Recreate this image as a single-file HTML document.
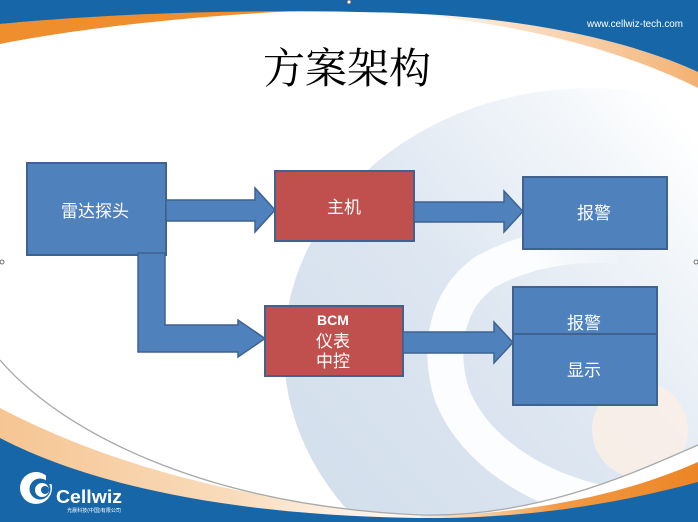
<!DOCTYPE html>
<html>
<head>
<meta charset="utf-8">
<style>
  html,body{margin:0;padding:0;background:#fff;width:698px;height:522px;overflow:hidden;}
  svg{display:block;position:absolute;left:0;top:0;overflow:hidden;}
  .lbl{font-family:"Liberation Sans","Noto Sans CJK SC",sans-serif;fill:#fff;font-size:17px;text-anchor:middle;}
</style>
</head>
<body>
<svg width="698" height="522" viewBox="0 0 698 522" xmlns="http://www.w3.org/2000/svg">
  <defs>
    <clipPath id="frame"><rect x="0" y="0" width="698" height="522"/></clipPath>
    <linearGradient id="lb" gradientUnits="userSpaceOnUse" x1="300" y1="460" x2="690" y2="130">
      <stop offset="0" stop-color="#d3dfec"/>
      <stop offset="0.45" stop-color="#dde6f1"/>
      <stop offset="0.8" stop-color="#f1f5f9"/>
      <stop offset="1" stop-color="#ffffff"/>
    </linearGradient>
    <linearGradient id="ringG" gradientUnits="userSpaceOnUse" x1="620" y1="240" x2="470" y2="320">
      <stop offset="0" stop-color="#ffffff" stop-opacity="0"/>
      <stop offset="0.5" stop-color="#ffffff" stop-opacity="0.9"/>
      <stop offset="1" stop-color="#ffffff" stop-opacity="0.92"/>
    </linearGradient>
    <linearGradient id="peachR" gradientUnits="userSpaceOnUse" x1="400" y1="0" x2="698" y2="0">
      <stop offset="0" stop-color="#f6c08a" stop-opacity="0"/>
      <stop offset="0.5" stop-color="#f5c596" stop-opacity="0.7"/>
      <stop offset="1" stop-color="#f3b171"/>
    </linearGradient>
    <linearGradient id="orBot" gradientUnits="userSpaceOnUse" x1="420" y1="0" x2="698" y2="0">
      <stop offset="0" stop-color="#f4b77a" stop-opacity="0.3"/>
      <stop offset="0.5" stop-color="#f19a45"/>
      <stop offset="1" stop-color="#ec8526"/>
    </linearGradient>
    <linearGradient id="peachL" gradientUnits="userSpaceOnUse" x1="0" y1="0" x2="400" y2="0">
      <stop offset="0" stop-color="#f6c592"/>
      <stop offset="0.6" stop-color="#f9dcbd"/>
      <stop offset="1" stop-color="#fcebd9" stop-opacity="0.4"/>
    </linearGradient>
  </defs>

  <g clip-path="url(#frame)">
  <!-- background -->
  <rect width="698" height="522" fill="#ffffff"/>
  <path d="M359,522 A306,262 0 0,1 698,105 L698,522 Z" fill="url(#lb)"/>
  <!-- white ring -->
  <path d="M620,246 C570,242 525,250 485,272 C445,300 438,350 452,395 C470,440 515,478 580,498 C605,505 625,508 640,510"
        fill="none" stroke="url(#ringG)" stroke-width="36"/>
  <!-- peach circle -->
  <circle cx="640" cy="430" r="48" fill="#fcefe6" opacity="0.85"/>

  <!-- white below grey line -->
  <path d="M0,360 C60,430 200,505 420,515 C540,518 640,470 698,445 V522 H0 Z" fill="#ffffff"/>
  <!-- left peach band -->
  <path d="M0,408 C90,455 220,500 420,516 L420,522 L0,522 Z" fill="url(#peachL)"/>
  <!-- right orange band -->
  <path d="M420,516 C540,514 630,492 698,462 V522 H420 Z" fill="url(#orBot)"/>
  <!-- grey line -->
  <path d="M0,360 C60,430 200,505 420,515 C540,518 640,470 698,445" fill="none" stroke="#a9a9a9" stroke-width="1.3"/>
  <!-- bottom blue band -->
  <path d="M0,438 C100,490 250,516 420,518 C540,519 630,500 698,482 V522 H0 Z" fill="#1766a8"/>

  <!-- top bands -->
  <path d="M0,24 C100,14 200,10 300,11 C200,15 80,28 0,44 Z" fill="#ef8e2c"/>
  <path d="M400,13 C540,18 640,45 698,72 V88 C630,54 530,24 400,13 Z" fill="url(#peachR)"/>
  <path d="M0,0 H698 V72 C640,45 540,18 400,13 C250,8 100,14 0,24 Z" fill="#1766a8"/>
  </g>
  <text x="635" y="27" font-family="Liberation Sans, sans-serif" font-size="10" fill="#ffffff" text-anchor="middle" textLength="96" lengthAdjust="spacingAndGlyphs">www.cellwiz-tech.com</text>

  <!-- title -->
  <text x="347" y="83" font-family="Liberation Serif, 'Noto Serif CJK SC', serif" font-size="42" fill="#000" text-anchor="middle">方案架构</text>

  <!-- logo -->
  <g>
    <circle cx="36" cy="488" r="16" fill="#ffffff"/>
    <circle cx="40" cy="489" r="10.5" fill="#1766a8"/>
    <circle cx="42" cy="490" r="7" fill="#ffffff"/>
    <circle cx="45" cy="490" r="4" fill="#1766a8"/>
    <rect x="46" y="470" width="10" height="14" fill="#1766a8"/>
    <text x="56" y="503" font-family="Liberation Sans, sans-serif" font-weight="bold" font-size="18" fill="#ffffff" textLength="66" lengthAdjust="spacingAndGlyphs">Cellwiz</text>
    <text x="94" y="512" font-family="Liberation Sans, 'Noto Sans CJK SC', sans-serif" font-size="5" fill="#ffffff" text-anchor="middle" textLength="54" lengthAdjust="spacingAndGlyphs">光晨科技(中国)有限公司</text>
  </g>

  <!-- boxes -->
  <rect x="27" y="163" width="139" height="92" fill="#4f81bd" stroke="#3f6290" stroke-width="2"/>
  <rect x="275" y="171" width="139" height="70" fill="#c0504d" stroke="#3f6290" stroke-width="2"/>
  <rect x="523" y="177" width="144" height="72" fill="#4f81bd" stroke="#3f6290" stroke-width="2"/>
  <rect x="265" y="306" width="138" height="70" fill="#c0504d" stroke="#3f6290" stroke-width="2"/>
  <rect x="513" y="287" width="144" height="70" fill="#4f81bd" stroke="#3f6290" stroke-width="2"/>
  <rect x="513" y="334" width="144" height="71" fill="#4f81bd" stroke="#3f6290" stroke-width="2"/>

  <!-- arrows -->
  <polygon points="166,200 255,200 255,188 275,210 255,232 255,221 166,221" fill="#4f81bd" stroke="#3f6290" stroke-width="1.5"/>
  <polygon points="414,202 504,202 504,191 523,211.5 504,232 504,222 414,222" fill="#4f81bd" stroke="#3f6290" stroke-width="1.5"/>
  <polygon points="138,253 165,253 165,325 238,325 238,320 265,338.5 238,357 238,352 138,352" fill="#4f81bd" stroke="#3f6290" stroke-width="1.5"/>
  <polygon points="403,332 494,332 494,322 513,342.5 494,363 494,353 403,353" fill="#4f81bd" stroke="#3f6290" stroke-width="1.5"/>

  <!-- labels -->
  <text class="lbl" x="95" y="217">雷达探头</text>
  <text class="lbl" x="344" y="213">主机</text>
  <text class="lbl" x="594" y="219">报警</text>
  <text x="333" y="325" font-family="Liberation Sans, sans-serif" font-weight="bold" font-size="14" fill="#fff" text-anchor="middle">BCM</text>
  <text class="lbl" x="333" y="347">仪表</text>
  <text class="lbl" x="333" y="367">中控</text>
  <text class="lbl" x="584" y="329">报警</text>
  <text class="lbl" x="584" y="376">显示</text>

  <!-- selection handles -->
  <circle cx="349" cy="2" r="2" fill="#fff" stroke="#555" stroke-width="0.8"/>
  <circle cx="2" cy="262" r="2" fill="#fff" stroke="#555" stroke-width="0.8"/>
  <circle cx="696" cy="262" r="2" fill="#fff" stroke="#555" stroke-width="0.8"/>
</svg>
</body>
</html>
